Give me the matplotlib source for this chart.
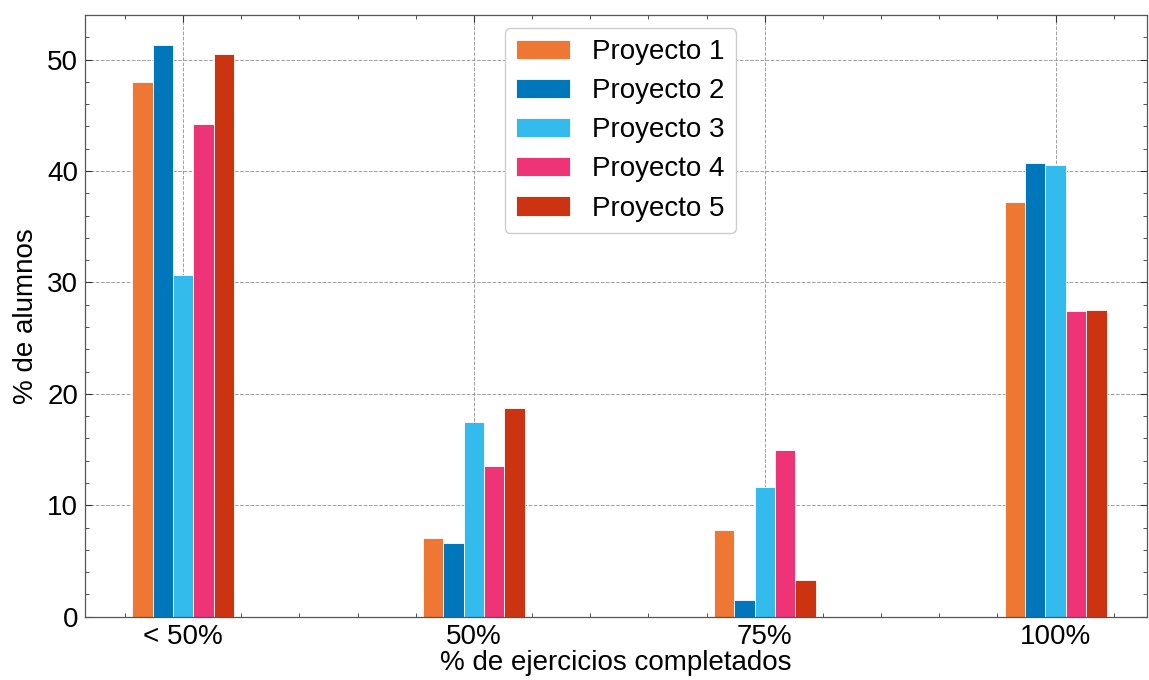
import numpy as np
import matplotlib
matplotlib.use("Agg")
import matplotlib.pyplot as plt
from matplotlib.ticker import AutoMinorLocator, MultipleLocator

categorias = ["< 50%", "50%", "75%", "100%"]
proyectos = ["Proyecto 1", "Proyecto 2", "Proyecto 3", "Proyecto 4", "Proyecto 5"]
colores = ["#EE7733", "#0077BB", "#33BBEE", "#EE3377", "#CC3311"]

p1 = [48.0, 7.1, 7.8, 37.2]
p2 = [51.3, 6.6, 1.5, 40.7]
p3 = [30.7, 17.5, 11.6, 40.5]
p4 = [44.2, 13.5, 15.0, 27.4]
p5 = [50.5, 18.7, 3.3, 27.5]
valores = [p1, p2, p3, p4, p5]

plt.rcParams["font.family"] = ["Liberation Sans", "DejaVu Sans"]
plt.rcParams["xtick.direction"] = "in"
plt.rcParams["ytick.direction"] = "in"

fig, ax = plt.subplots(figsize=(11.49, 6.80), dpi=100)
fig.subplots_adjust(left=0.074, right=0.998, top=0.978, bottom=0.093)

x = np.arange(len(categorias))
ancho = 0.07
for i, (nombre, vals, c) in enumerate(zip(proyectos, valores, colores)):
    ax.bar(x + (i - 2) * ancho, vals, ancho, label=nombre, color=c,
           edgecolor="white", linewidth=0.6, zorder=2)

ax.set_xticks(x)
ax.set_xticklabels(categorias)
ax.set_xlim(-0.337, 3.313)
ax.set_ylim(0, 54)
ax.yaxis.set_major_locator(MultipleLocator(10))
ax.xaxis.set_minor_locator(AutoMinorLocator(5))
ax.yaxis.set_minor_locator(AutoMinorLocator(5))

ax.tick_params(which="both", top=True, right=True, labelsize=20, color="#333333")
ax.tick_params(which="major", length=5, width=0.8)
ax.tick_params(which="minor", length=3, width=0.6)
ax.tick_params(axis="x", pad=5)
ax.tick_params(axis="y", pad=5)
for s in ax.spines.values():
    s.set_color("#555555")
    s.set_linewidth(0.9)

ax.grid(True, which="major", linestyle="--", linewidth=0.7, color="#888888", alpha=0.8, zorder=0)
ax.set_axisbelow(True)

ax.set_xlabel("% de ejercicios completados", fontsize=20, labelpad=0)
ax.set_ylabel("% de alumnos", fontsize=20, labelpad=6)

ax.legend(loc="upper center", bbox_to_anchor=(0.504, 0.978), fontsize=20,
          handlelength=1.95, handleheight=0.7, handletextpad=0.8, labelspacing=0.47,
          borderpad=0.4, borderaxespad=0, fancybox=True, framealpha=1, edgecolor="#cccccc")

fig.savefig("out.png", dpi=100)
